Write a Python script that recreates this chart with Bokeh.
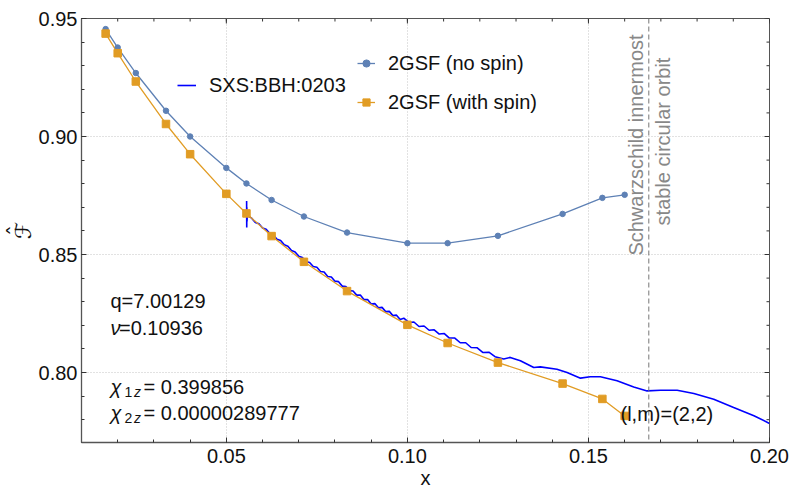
import numpy as np
from math import pi
from bokeh.plotting import figure
from bokeh.models import (Range1d, FixedTicker, Span, Label, Legend,
                          LegendItem, NumeralTickFormatter)
from bokeh.embed import file_html
from bokeh.resources import INLINE

# ---------------- data ----------------
r0 = [60, 50, 40, 30, 25, 20, 18, 16, 14, 12, 10, 9, 8, 7, 6.5, 6.25]
x_gsf = [1.0 / r for r in r0]
f_nospin = [0.9455, 0.9377, 0.9269, 0.9109, 0.9000, 0.8867, 0.8801, 0.8731,
            0.8661, 0.8593, 0.8548, 0.8548, 0.8579, 0.8672, 0.8740, 0.8753]
f_spin = [0.9436, 0.9353, 0.9233, 0.9053, 0.8925, 0.8757, 0.8674, 0.8578,
          0.8469, 0.8345, 0.8202, 0.8125, 0.8042, 0.7953, 0.7888, 0.7816]

x_sxs = [0.05560, 0.05563, 0.05566, 0.05570, 0.05580,
         0.057, 0.058, 0.059, 0.060, 0.061, 0.062, 0.063, 0.064, 0.065, 0.066,
         0.067, 0.068, 0.069, 0.070, 0.071, 0.072, 0.073, 0.074, 0.075, 0.076,
         0.077, 0.078, 0.079, 0.080, 0.081, 0.082, 0.083, 0.084, 0.085, 0.086,
         0.087, 0.088, 0.089, 0.090, 0.091, 0.092, 0.093, 0.094, 0.095, 0.096,
         0.097, 0.098,
         0.0990, 0.1004, 0.1018, 0.1032, 0.1046, 0.1060, 0.1074, 0.1088, 0.1102,
         0.1116, 0.1131, 0.1146, 0.1161, 0.1176, 0.1192, 0.1208, 0.1225, 0.1242,
         0.1266, 0.1284, 0.1312, 0.1349, 0.1367, 0.1413, 0.1441, 0.1478, 0.1505,
         0.1533, 0.1579, 0.1625, 0.1662, 0.1699, 0.1745, 0.1791, 0.1846, 0.1901,
         0.1957, 0.2000]
f_sxs = [0.8727, 0.8614, 0.8700, 0.8640, 0.8665,
         0.8654, 0.8636, 0.8630, 0.8612, 0.8607, 0.8589, 0.8583, 0.8565, 0.8559, 0.8541,
         0.8535, 0.8517, 0.8511, 0.8493, 0.8487, 0.8470, 0.8466, 0.8449, 0.8446, 0.8428,
         0.8426, 0.8407, 0.8405, 0.8387, 0.8385, 0.8366, 0.8364, 0.8347, 0.8345, 0.8328,
         0.8328, 0.8309, 0.8309, 0.8290, 0.8292, 0.8274, 0.8276, 0.8258, 0.8259, 0.8241,
         0.8243, 0.8225,
         0.8230, 0.8212, 0.8214, 0.8195, 0.8197, 0.8179, 0.8181, 0.8163, 0.8165,
         0.8146, 0.8146, 0.8126, 0.8126, 0.8106, 0.8105, 0.8085, 0.8086, 0.8067,
         0.8057, 0.8064, 0.8050, 0.8021, 0.8024, 0.8014, 0.8000, 0.7976, 0.7982,
         0.7982, 0.7965, 0.7939, 0.7922, 0.7925, 0.7925, 0.7911, 0.7887, 0.7852,
         0.7817, 0.7784]

isco_x = 1.0 / 6.0
x_major = [0.05, 0.10, 0.15, 0.20]
y_major = [0.80, 0.85, 0.90, 0.95]
x_minor = [round(0.01 * k, 2) for k in range(1, 21)]
y_minor = [round(0.77 + 0.01 * k, 2) for k in range(0, 19)]

# ---------------- layout ----------------
FL, FT, FW, FH = 81, 18, 688, 424          # frame position in the picture
X0, X1 = 0.01, 0.20
Y1 = 0.95
Y0 = Y1 - FH * 0.05 / 118.0
DX = (X1 - X0) / FW    # data per pixel
DY = (Y1 - Y0) / FH

def X(px):
    return X0 + (px - FL) * DX

def Y(py):
    return Y1 - (py - FT) * DY

FONT = "Liberation Sans"
FS = "20px"
C_NS = "#5E81B5"
C_S = "#E19C24"
C_SXS = "#0000FF"
AXC = "#555555"

p = figure(frame_width=FW, frame_height=FH,
           min_border_left=FL, min_border_right=20,
           min_border_top=FT, min_border_bottom=52,
           x_range=Range1d(X0, X1), y_range=Range1d(Y0, Y1),
           output_backend="svg", toolbar_location=None)
p.outline_line_color = AXC
p.outline_line_width = 1
p.background_fill_color = "white"
p.border_fill_color = "white"

xt = FixedTicker(ticks=x_major, minor_ticks=x_minor)
yt = FixedTicker(ticks=y_major, minor_ticks=y_minor)

for ax, tk in ((p.xaxis[0], xt), (p.yaxis[0], yt)):
    ax.ticker = tk
    ax.formatter = NumeralTickFormatter(format="0.00")
    ax.axis_line_color = AXC
    ax.axis_line_width = 1.3
    ax.major_tick_in = 5
    ax.major_tick_out = 0
    ax.minor_tick_in = 3
    ax.minor_tick_out = 0
    ax.major_tick_line_color = "#333333"
    ax.minor_tick_line_color = "#333333"
    ax.major_label_text_font = FONT
    ax.major_label_text_font_size = FS
    ax.major_label_text_color = "#111111"
p.xaxis[0].major_label_standoff = 6
p.yaxis[0].major_label_standoff = 4

p.xaxis[0].axis_label = "x"
p.xaxis[0].axis_label_text_font = FONT
p.xaxis[0].axis_label_text_font_style = "normal"
p.xaxis[0].axis_label_text_font_size = FS
p.xaxis[0].axis_label_text_color = "#111111"
p.xaxis[0].axis_label_standoff = 1

# y label: script F with a hat (hat on its own short line above the letter)
p.yaxis[0].axis_label = "\u02c6\n\u2131"
p.yaxis[0].axis_label_text_font = "DejaVu Sans"
p.yaxis[0].axis_label_text_font_style = "normal"
p.yaxis[0].axis_label_text_font_size = "22px"
p.yaxis[0].axis_label_text_line_height = 0.3
p.yaxis[0].axis_label_text_color = "#111111"
p.yaxis[0].axis_label_standoff = 0

p.xgrid.ticker = FixedTicker(ticks=[0.05, 0.10, 0.15])
p.ygrid.ticker = FixedTicker(ticks=[0.80, 0.85, 0.90])
for g in (p.xgrid[0], p.ygrid[0]):
    g.grid_line_color = "#c4c4c4"
    g.grid_line_dash = "1 2"
    g.grid_line_width = 1

# mirrored ticks on the top and right frame edges
p.segment(x0=x_major, y0=[Y1] * len(x_major), x1=x_major, y1=[Y1 - 5 * DY] * len(x_major),
          line_color="#333333", line_width=1)
p.segment(x0=x_minor, y0=[Y1] * len(x_minor), x1=x_minor, y1=[Y1 - 3 * DY] * len(x_minor),
          line_color="#333333", line_width=1)
p.segment(x0=[X1] * len(y_major), y0=y_major, x1=[X1 - 5 * DX] * len(y_major), y1=y_major,
          line_color="#333333", line_width=1)
p.segment(x0=[X1] * len(y_minor), y0=y_minor, x1=[X1 - 3 * DX] * len(y_minor), y1=y_minor,
          line_color="#333333", line_width=1)

# ---------------- glyphs ----------------
r_sxs = p.line(x_sxs, f_sxs, line_color=C_SXS, line_width=1.6)
l_ns = p.line(x_gsf, f_nospin, line_color=C_NS, line_width=1.3)
l_s = p.line(x_gsf, f_spin, line_color=C_S, line_width=1.3)
s_ns = p.scatter(x_gsf, f_nospin, marker="circle", size=5.5, fill_color=C_NS, line_color=C_NS)
s_s = p.scatter(x_gsf, f_spin, marker="square", size=7.5, fill_color=C_S, line_color=C_S)

p.add_layout(Span(location=isco_x, dimension="height", line_color="#777777",
                  line_dash="5 3", line_width=1))

# ---------------- legends ----------------
def legend_style(leg):
    leg.border_line_alpha = 0
    leg.background_fill_alpha = 0
    leg.padding = 0
    leg.margin = 0
    leg.glyph_height = 24
    leg.label_height = 24
    leg.label_standoff = 13
    leg.label_text_font = FONT
    leg.label_text_font_size = FS
    leg.label_text_color = "#111111"

leg1 = Legend(items=[LegendItem(label="SXS:BBH:0203", renderers=[r_sxs])],
              location=(96, 345))
legend_style(leg1)
leg1.glyph_width = 19
leg2 = Legend(items=[LegendItem(label="2GSF (no spin)", renderers=[l_ns, s_ns]),
                     LegendItem(label="2GSF (with spin)", renderers=[l_s, s_s])],
              location=(276, 328), spacing=15)
legend_style(leg2)
leg2.glyph_width = 18
p.add_layout(leg1)
p.add_layout(leg2)

# ---------------- annotations ----------------
def lab(text, px, py, size=FS, style="normal", color="#111111", align="left",
        angle=0.0, font=FONT):
    p.add_layout(Label(x=X(px), y=Y(py), text=text, text_font=font,
                       text_font_size=size, text_font_style=style,
                       text_color=color, text_align=align,
                       text_baseline="middle", angle=angle))

lab("q=7.00129", 110, 300.7)
lab("\u03bd", 110, 327.7, style="italic")
lab("=0.10936", 118.5, 327.7)
lab("\u03c7", 110, 386, style="italic")
lab("1", 124, 391, size="14px")
lab("z", 133.5, 391, size="14px", style="italic")
lab("= 0.399856", 143, 386)
lab("\u03c7", 110, 412.7, style="italic")
lab("2", 124, 417.5, size="14px")
lab("z", 133.5, 417.5, size="14px", style="italic")
lab("= 0.00000289777", 143, 412.7)
lab("(l,m)=(2,2)", 620, 413)
lab("Schwarzschild innermost", 635, 144.5, color="#888888", align="center", angle=pi / 2)
lab("stable circular orbit", 662.7, 141, color="#888888", align="center", angle=pi / 2)

open("out.html", "w").write(file_html(p, INLINE))
